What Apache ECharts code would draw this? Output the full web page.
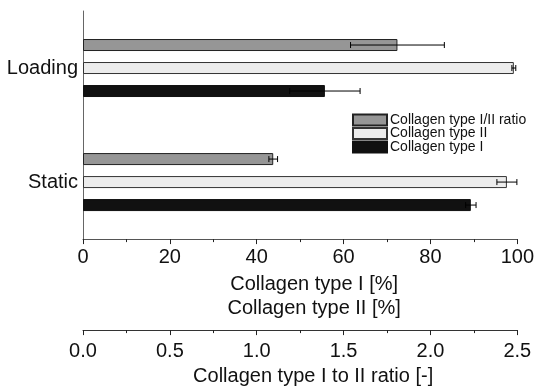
<!DOCTYPE html>
<html><head><meta charset="utf-8">
<script src="https://cdn.jsdelivr.net/npm/echarts@6/dist/echarts.min.js"></script>
<style>html,body{margin:0;padding:0;background:#fff}#c{width:537px;height:391px}</style>
</head><body><div id="c"></div>
<script>
const categories = ['Static', 'Loading'];
const seriesNames = ['Collagen type I/II ratio', 'Collagen type II', 'Collagen type I'];
const ratioValues = [1.095, 1.81];
const ratioErrors = [0.025, 0.27];
const type2Values = [97.6, 99.2];
const type2Errors = [2.3, 0.45];
const type1Values = [89.3, 55.7];
const type1Errors = [1.2, 8.1];
const percentTicks = [0, 20, 40, 60, 80, 100];
const ratioTicks = [0.0, 0.5, 1.0, 1.5, 2.0, 2.5];

const FONT = 'Liberation Sans';
const FS = 20;
const BAR_W = 12;
const BAR_GAP_PX = 11;
const STEP = BAR_W + BAR_GAP_PX;

function errSeries(values, errors, slot, xIdx) {
  return {
    type: 'custom',
    xAxisIndex: xIdx,
    yAxisIndex: 0,
    z: 5,
    silent: true,
    encode: { x: 0, y: 1 },
    data: values.map((v, i) => [v, i, errors[i]]),
    renderItem: function (params, api) {
      const v = api.value(0), c = api.value(1), e = api.value(2);
      const p1 = api.coord([v - e, c]);
      const p2 = api.coord([v + e, c]);
      const y = p1[1] + slot * STEP;
      const st = { stroke: '#000', lineWidth: 1 };
      return {
        type: 'group',
        children: [
          { type: 'line', shape: { x1: p1[0], y1: y, x2: p2[0], y2: y }, style: st },
          { type: 'line', shape: { x1: p1[0], y1: y - 3, x2: p1[0], y2: y + 3 }, style: st },
          { type: 'line', shape: { x1: p2[0], y1: y - 3, x2: p2[0], y2: y + 3 }, style: st }
        ]
      };
    }
  };
}

const chart = echarts.init(document.getElementById('c'), null, { renderer: 'canvas' });
chart.setOption({
  animation: false,
  backgroundColor: '#fff',
  textStyle: { fontFamily: FONT },
  grid: { left: 83, right: 18, top: 11, bottom: 151, containLabel: false },
  legend: {
    data: seriesNames,
    orient: 'vertical',
    left: 352, top: 113, padding: 0,
    itemWidth: 34, itemHeight: 11, itemGap: -0.5,
    icon: 'rect',
    textStyle: { fontFamily: FONT, fontSize: 14, color: '#111', lineHeight: 11, padding: [0, 0, 0, -2] }
  },
  yAxis: {
    type: 'category',
    data: categories,
    axisLine: { lineStyle: { color: '#666', width: 1 } },
    axisTick: { length: 3, lineStyle: { color: '#222' } },
    axisLabel: { fontFamily: FONT, fontSize: FS, color: '#111', margin: 5, padding: [4, 0, 0, 0] }
  },
  xAxis: [
    {
      type: 'value', position: 'bottom',
      min: percentTicks[0], max: percentTicks[percentTicks.length - 1],
      interval: percentTicks[1] - percentTicks[0],
      splitLine: { show: false },
      axisLine: { show: true, lineStyle: { color: '#555' } },
      axisTick: { show: true, length: 5, lineStyle: { color: '#222' } },
      minorTick: { show: true, splitNumber: 2, length: 3, lineStyle: { color: '#222' } },
      axisLabel: { fontFamily: FONT, fontSize: FS, color: '#111', margin: 8 },
      name: 'Collagen type I [%]\nCollagen type II [%]',
      nameLocation: 'middle', nameGap: 26,
      nameTextStyle: { fontFamily: FONT, fontSize: FS, color: '#111', lineHeight: 24, padding: [0, 0, 0, 28] }
    },
    {
      type: 'value', position: 'bottom', offset: 91,
      min: ratioTicks[0], max: ratioTicks[ratioTicks.length - 1],
      interval: ratioTicks[1] - ratioTicks[0],
      splitLine: { show: false },
      axisLine: { show: true, onZero: false, lineStyle: { color: '#333' } },
      axisTick: { show: true, length: 5, lineStyle: { color: '#222' } },
      minorTick: { show: true, splitNumber: 2, length: 3, lineStyle: { color: '#222' } },
      axisLabel: { fontFamily: FONT, fontSize: FS, color: '#111', margin: 11, formatter: v => v.toFixed(1) },
      name: 'Collagen type I to II ratio [-]',
      nameLocation: 'middle', nameGap: 29,
      nameTextStyle: { fontFamily: FONT, fontSize: FS, color: '#111', padding: [0, 0, 0, 26] }
    }
  ],
  series: [
    {
      name: seriesNames[0], type: 'bar', xAxisIndex: 1, yAxisIndex: 0,
      data: ratioValues, barWidth: BAR_W, barGap: (BAR_GAP_PX / BAR_W * 100) + '%',
      itemStyle: { color: '#969696', borderColor: '#222', borderWidth: 1 }
    },
    {
      name: seriesNames[1], type: 'bar', xAxisIndex: 0, yAxisIndex: 0,
      data: type2Values, barWidth: BAR_W, barGap: (BAR_GAP_PX / BAR_W * 100) + '%',
      itemStyle: { color: '#ececec', borderColor: '#333', borderWidth: 1 }
    },
    {
      name: seriesNames[2], type: 'bar', xAxisIndex: 0, yAxisIndex: 0,
      data: type1Values, barWidth: BAR_W, barGap: (BAR_GAP_PX / BAR_W * 100) + '%',
      itemStyle: { color: '#111', borderColor: '#111', borderWidth: 1 }
    },
    errSeries(ratioValues, ratioErrors, -1, 1),
    errSeries(type2Values, type2Errors, 0, 0),
    errSeries(type1Values, type1Errors, 1, 0)
  ]
});
</script></body></html>
